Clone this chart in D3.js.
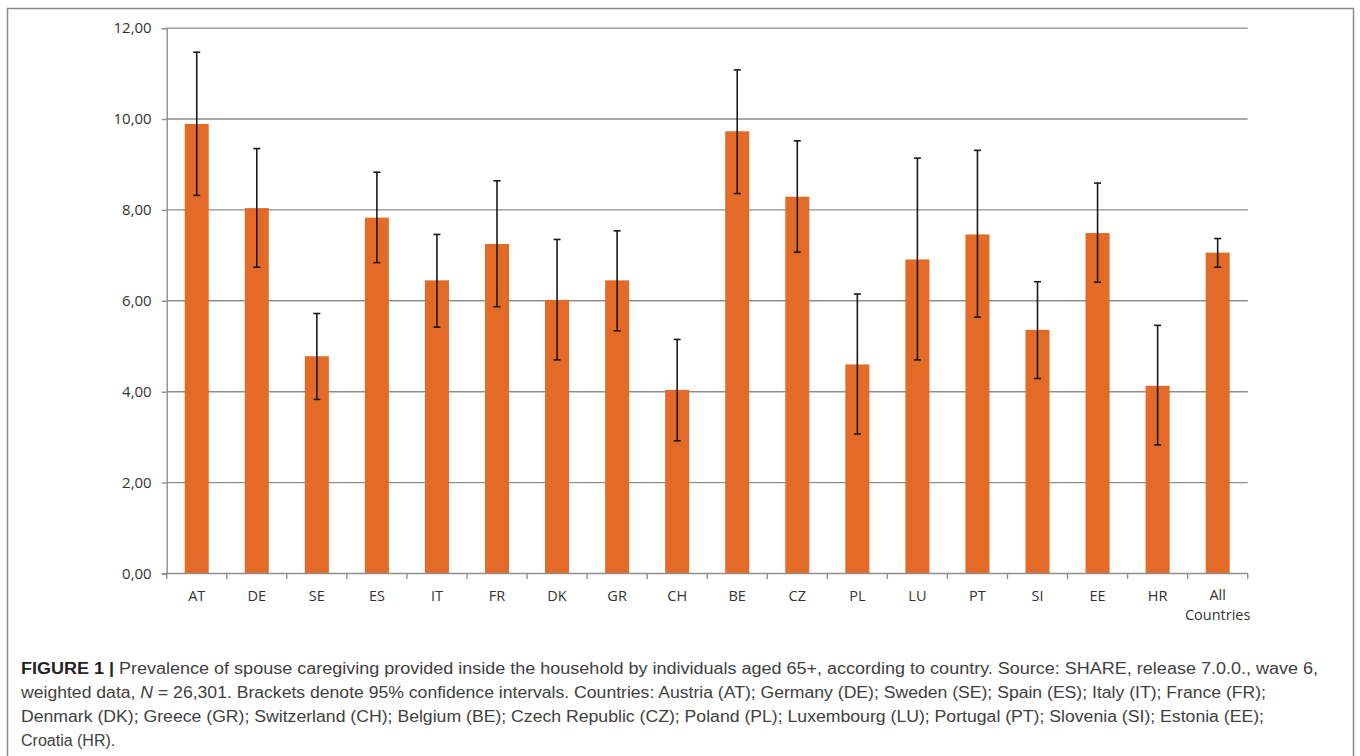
<!DOCTYPE html>
<html>
<head>
<meta charset="utf-8">
<script src="https://cdn.jsdelivr.net/npm/d3@7"></script>
<style>
  html, body { margin: 0; padding: 0; background: #fff; }
  svg { display: block; }
</style>
</head>
<body>
<svg id="chart" width="1360" height="756"></svg>
<script>
// ---- data ----
const categories = ["AT","DE","SE","ES","IT","FR","DK","GR","CH","BE","CZ","PL","LU","PT","SI","EE","HR","All Countries"];
const prevalence = [9.89, 8.04, 4.78, 7.83, 6.45, 7.25, 6.02, 6.45, 4.04, 9.73, 8.29, 4.60, 6.91, 7.46, 5.36, 7.49, 4.13, 7.06];
const ciLower    = [8.32, 6.74, 3.83, 6.84, 5.42, 5.87, 4.70, 5.34, 2.92, 8.36, 7.07, 3.07, 4.70, 5.64, 4.29, 6.41, 2.83, 6.74];
const ciUpper    = [11.47, 9.35, 5.72, 8.83, 7.46, 8.64, 7.35, 7.54, 5.15, 11.08, 9.52, 6.15, 9.14, 9.31, 6.42, 8.59, 5.46, 7.37];
const yTicks = [0, 2, 4, 6, 8, 10, 12];
const captionLines = [
  [{t:"FIGURE 1 | ", b:true}, {t:"Prevalence of spouse caregiving provided inside the household by individuals aged 65+, according to country. Source: SHARE, release 7.0.0., wave 6,"}],
  [{t:"weighted data, "}, {t:"N", i:true}, {t:" = 26,301. Brackets denote 95% confidence intervals. Countries: Austria (AT); Germany (DE); Sweden (SE); Spain (ES); Italy (IT); France (FR);"}],
  [{t:"Denmark (DK); Greece (GR); Switzerland (CH); Belgium (BE); Czech Republic (CZ); Poland (PL); Luxembourg (LU); Portugal (PT); Slovenia (SI); Estonia (EE);"}],
  [{t:"Croatia (HR)."}]
];

const data = categories.map((c, i) => ({c, v: prevalence[i], lo: ciLower[i], hi: ciUpper[i]}));

const svg = d3.select("#chart");

// figure border (open at the bottom, cropped)
svg.append("path")
  .attr("d", "M7.5,770 L7.5,8.5 L1353.5,8.5 L1353.5,770")
  .attr("fill", "none").attr("stroke", "#8a8a8a").attr("stroke-width", 1.5);

const x = d3.scaleBand().domain(categories).range([166.7, 1247.7]).paddingInner(0.6).paddingOuter(0.3);
const y = d3.scaleLinear().domain([0, 12]).range([573.5, 28.1]);

const gridColor = "#8e8e8e";
const textColor = "#333333";

// gridlines
svg.append("g").selectAll("line").data(yTicks.filter(d => d > 0)).join("line")
  .attr("x1", 166.7).attr("x2", 1247.7)
  .attr("y1", d => y(d)).attr("y2", d => y(d))
  .attr("stroke", gridColor).attr("stroke-width", 1.4);

// y axis
const yAxis = d3.axisLeft(y).tickValues(yTicks).tickSize(5).tickPadding(10)
  .tickFormat(d => d3.format(".2f")(d).replace(".", ","));
const gy = svg.append("g").attr("transform", "translate(166.7,0)").call(yAxis);
gy.select(".domain").attr("stroke", gridColor).attr("stroke-width", 1.4);
gy.selectAll(".tick line").attr("stroke", gridColor).attr("stroke-width", 1.4);
gy.selectAll(".tick text").attr("fill", textColor)
  .style("font-family", "'Open Sans', sans-serif").style("font-size", "15px");

// bars
svg.append("g").selectAll("rect").data(data).join("rect")
  .attr("x", d => x(d.c)).attr("width", x.bandwidth())
  .attr("y", d => y(d.v)).attr("height", d => y(0) - y(d.v))
  .attr("fill", "#e46b27");

// x axis baseline + ticks at category boundaries
const step = x.step();
const boundaries = d3.range(categories.length + 1).map(i => x.range()[0] + i * step);
const gx = svg.append("g");
gx.append("line").attr("x1", 166.7).attr("x2", 1247.7).attr("y1", y(0)).attr("y2", y(0))
  .attr("stroke", gridColor).attr("stroke-width", 1.4);
gx.selectAll("line.tk").data(boundaries).join("line").attr("class", "tk")
  .attr("x1", d => d).attr("x2", d => d).attr("y1", y(0)).attr("y2", y(0) + 5.5)
  .attr("stroke", gridColor).attr("stroke-width", 1.4);
categories.forEach(d => {
  const parts = d.split(" ");
  parts.forEach((p, k) => {
    gx.append("text")
      .attr("x", x(d) + x.bandwidth() / 2).attr("y", (parts.length > 1 ? 599.5 : 601) + k * 20)
      .attr("text-anchor", "middle").attr("fill", textColor)
      .style("font-family", "'Open Sans', sans-serif").style("font-size", "14.5px")
      .text(p);
  });
});

// error bars
const eb = svg.append("g").attr("stroke", "#1a1a1a").attr("stroke-width", 1.6);
const cx = d => x(d.c) + x.bandwidth() / 2;
eb.selectAll("line.v").data(data).join("line").attr("class", "v")
  .attr("x1", cx).attr("x2", cx).attr("y1", d => y(d.lo)).attr("y2", d => y(d.hi));
eb.selectAll("line.top").data(data).join("line").attr("class", "top")
  .attr("x1", d => cx(d) - 3.5).attr("x2", d => cx(d) + 3.5).attr("y1", d => y(d.hi)).attr("y2", d => y(d.hi));
eb.selectAll("line.bot").data(data).join("line").attr("class", "bot")
  .attr("x1", d => cx(d) - 3.5).attr("x2", d => cx(d) + 3.5).attr("y1", d => y(d.lo)).attr("y2", d => y(d.lo));

// caption
const cap = svg.append("g").style("font-family", "'Liberation Sans', Arial, sans-serif").style("font-size", "16px");
const baselines = [674, 698, 722, 746];
const widths = [1297, 1245, 1243, null];
captionLines.forEach((line, li) => {
  const t = cap.append("text").attr("x", 21).attr("y", baselines[li]).attr("fill", "#404040");
  if (widths[li]) t.attr("textLength", widths[li]).attr("lengthAdjust", "spacingAndGlyphs");
  line.forEach(seg => {
    const s = t.append("tspan").text(seg.t);
    if (seg.b) s.attr("font-weight", "bold").attr("fill", "#222");
    if (seg.i) s.attr("font-style", "italic");
  });
});
</script>
</body>
</html>
